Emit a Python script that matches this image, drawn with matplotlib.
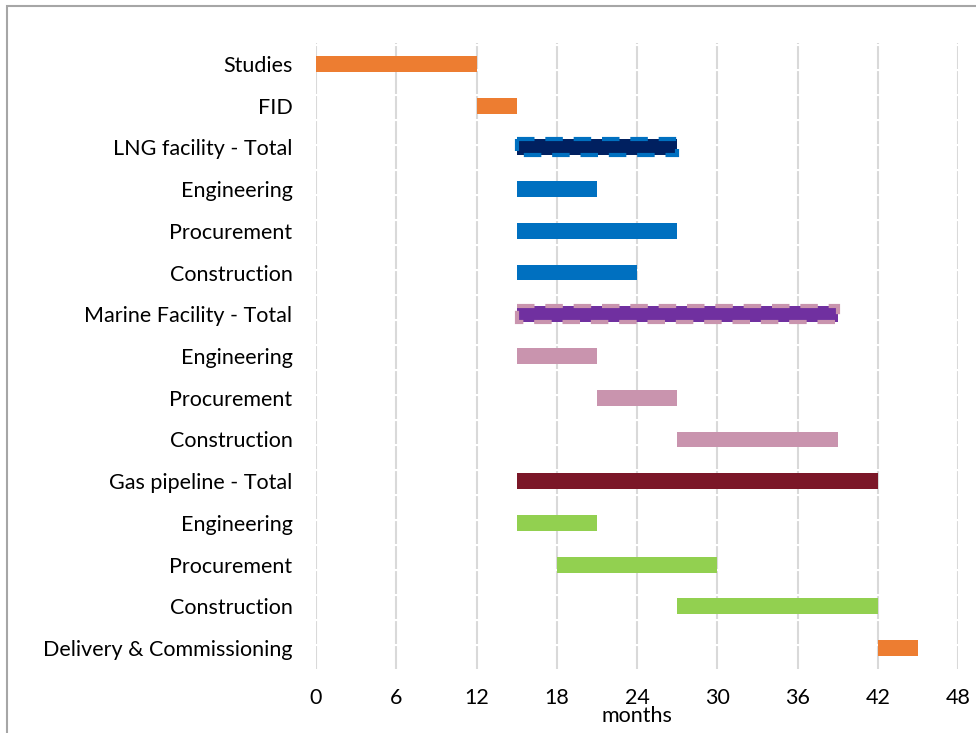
import matplotlib
matplotlib.use("Agg")
import matplotlib.pyplot as plt
from matplotlib.patches import Rectangle

plt.rcParams['font.family'] = ['Lato', 'DejaVu Sans']

tasks = ["Studies", "FID", "LNG facility - Total", "Engineering", "Procurement",
         "Construction", "Marine Facility - Total", "Engineering", "Procurement",
         "Construction", "Gas pipeline - Total", "Engineering", "Procurement",
         "Construction", "Delivery & Commissioning"]
starts = [0, 12, 15, 15, 15, 15, 15, 15, 21, 27, 15, 15, 18, 27, 42]
ends = [12, 15, 27, 21, 27, 24, 39, 21, 27, 39, 42, 21, 30, 42, 45]
colors = ["#ED7D31", "#ED7D31", "#002060", "#0070C0", "#0070C0", "#0070C0",
          "#7030A0", "#C994AE", "#C994AE", "#C994AE", "#7B1728",
          "#92D050", "#92D050", "#92D050", "#ED7D31"]
edge_colors = {2: "#0070C0", 6: "#C994AE"}
xticks = [0, 6, 12, 18, 24, 30, 36, 42, 48]

fig = plt.figure(figsize=(9.76, 7.33), dpi=100)
ax = fig.add_axes([316 / 976, 1 - 669 / 733, 642 / 976, 626 / 733])

# outer frame of the chart area
fig.patches.append(Rectangle((7 / 976, -0.05), 1.1, 1 - 6 / 733 + 0.05,
                             transform=fig.transFigure, fill=False,
                             edgecolor="#A6A6A6", linewidth=1.5))

ypos = list(range(len(tasks)))
durations = [e - s for s, e in zip(starts, ends)]
for i, (s, d, c) in enumerate(zip(starts, durations, colors)):
    if i in edge_colors:
        ax.barh(i, d, left=s, height=0.38, color=c, edgecolor=edge_colors[i],
                linewidth=3, linestyle=(0, (4.2, 2.6)), zorder=3)
    else:
        ax.barh(i, d, left=s, height=0.38, color=c, zorder=3)

ax.set_xlim(0, 48)
ax.set_ylim(len(tasks) - 0.5, -0.5)
ax.set_yticks(ypos)
ax.set_yticklabels(tasks, fontsize=15.5)
ax.set_xticks(xticks)
ax.set_xticklabels([str(t) for t in xticks], fontsize=15.5)
ax.tick_params(length=0)
ax.tick_params(axis='y', pad=17)
ax.tick_params(axis='x', pad=14)
ax.xaxis.grid(True, color="#D9D9D9", linewidth=1.5, linestyle=(0, (11, 1)))
ax.set_axisbelow(True)
for sp in ax.spines.values():
    sp.set_visible(False)
ax.set_xlabel("months", fontsize=15.5, labelpad=-2)

fig.savefig("out.png", dpi=100)
